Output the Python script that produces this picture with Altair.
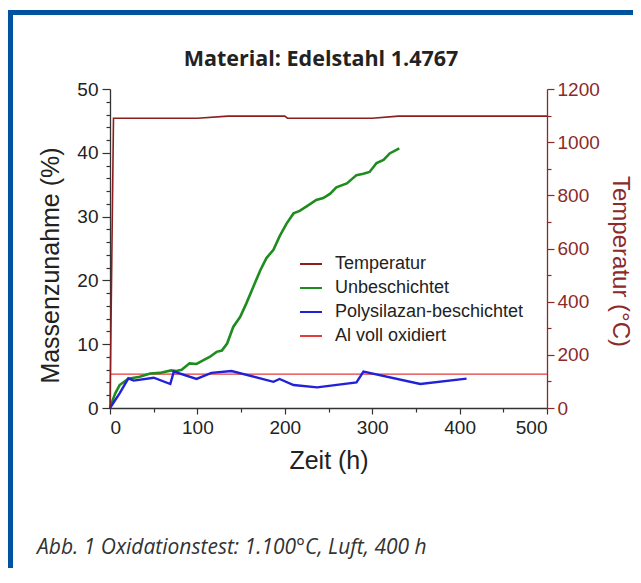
import altair as alt
import pandas as pd

# ---------------- data ----------------
series_names = ["Temperatur", "Unbeschichtet", "Polysilazan-beschichtet", "Al voll oxidiert"]
series_colors = ["#8b1f1f", "#1e8c1e", "#2121d9", "#e33b3b"]

temp_t = [0, 4, 100, 135, 200, 203, 300, 330, 500]
temp_c = [0, 1090, 1090, 1098, 1098, 1090, 1090, 1098, 1098]

unb_t = [0, 3, 6, 11, 17, 21, 34, 46, 57, 70, 76, 82, 91, 99, 107, 114, 122, 128, 134,
         141, 149, 156, 164, 172, 179, 187, 194, 202, 210, 217, 225, 236, 244, 252, 259,
         271, 282, 290, 297, 305, 313, 320, 331]
unb_m = [0, 1.2, 2.3, 3.6, 4.2, 4.6, 4.9, 5.4, 5.5, 5.9, 5.8, 6.0, 7.0, 6.9, 7.5, 8.0, 8.8, 9.0, 10.1,
         12.7, 14.3, 16.4, 19.0, 21.6, 23.5, 24.8, 26.9, 28.9, 30.5, 30.9, 31.6, 32.6, 32.9, 33.6, 34.6,
         35.2, 36.5, 36.7, 37.0, 38.4, 38.9, 39.9, 40.7]

poly_t = [0, 11, 21, 27, 50, 69, 73, 99, 116, 139, 187, 194, 210, 237, 282, 290, 355, 408]
poly_m = [0, 2.3, 4.65, 4.3, 4.75, 3.76, 5.7, 4.55, 5.5, 5.8, 4.1, 4.55, 3.6, 3.24, 4.0, 5.7, 3.76, 4.6]

al_t = [0, 500]
al_m = [5.3, 5.3]

x_ticks = list(range(0, 501, 50))
y_ticks = list(range(0, 51, 2))
t_ticks = list(range(0, 1201, 100))

title_text = "Material: Edelstahl 1.4767"
caption_text = "Abb. 1 Oxidationstest: 1.100°C, Luft, 400 h"

# ---------------- tables ----------------
unb_df = pd.DataFrame({"t": unb_t, "v": unb_m, "series": series_names[1]})
poly_df = pd.DataFrame({"t": poly_t, "v": poly_m, "series": series_names[2]})
al_df = pd.DataFrame({"t": al_t, "v": al_m, "series": series_names[3]})
temp_df = pd.DataFrame({"t": temp_t, "v": temp_c, "series": series_names[0]})
one = pd.DataFrame({"a": [0]})

FONT = "Liberation Sans"
DARKRED = "#8b2a2a"

x_axis = alt.Axis(
    values=x_ticks, orient="bottom", title="Zeit (h)", format="d",
    labelExpr="datum.value % 100 === 0 ? datum.label : ''",
    tickSize={"condition": {"test": "datum.value % 100 === 0", "value": 6}, "value": 4},
    grid=False, domainColor="#333", tickColor="#333", labelColor="#222", titleColor="#222",
    labelFont=FONT, labelFontSize=19, titleFont=FONT, titleFontSize=25, titleFontWeight="normal",
    labelPadding=4, titleBaseline="alphabetic", titleY=60, domainWidth=1.3, tickWidth=1.2,
)
x_enc = alt.X("t:Q", scale=alt.Scale(domain=[0, 500], nice=False), axis=x_axis)

color_enc = alt.Color(
    "series:N",
    scale=alt.Scale(domain=series_names, range=series_colors),
    legend=alt.Legend(
        title=None, orient="none", legendX=189, legendY=163, padding=0,
        symbolType="stroke", symbolSize=484, symbolStrokeWidth=2,
        labelFont=FONT, labelFontSize=18, labelColor="#222", labelOffset=12,
        rowPadding=3, labelLimit=400,
    ),
)

mass_y = alt.Y("v:Q", scale=alt.Scale(domain=[0, 50], nice=False),
               axis=alt.Axis(
                   values=y_ticks, orient="left", title="Massenzunahme (%)", format="d",
                   labelExpr="datum.value % 10 === 0 ? datum.label : ''",
                   tickSize={"condition": {"test": "datum.value % 10 === 0", "value": 8}, "value": 4},
                   grid=False, domainColor="#333", tickColor="#333", labelColor="#222", titleColor="#222",
                   labelFont=FONT, labelFontSize=19, titleFont=FONT, titleFontSize=25,
                   titleFontWeight="normal", labelPadding=4, titleAngle=-90, titleBaseline="middle",
                   titleX=-60, titleY=176, domainWidth=1.3, tickWidth=1.2,
               ))


def mass_layer(df, width):
    return alt.Chart(df).mark_line(strokeWidth=width).encode(
        x=x_enc, y=mass_y, color=color_enc
    )


al_line = mass_layer(al_df, 1.2)
unb_line = mass_layer(unb_df, 2.6)
poly_line = mass_layer(poly_df, 2.4)
mass = alt.layer(al_line, unb_line, poly_line)

temp = alt.Chart(temp_df).mark_line(strokeWidth=1.6).encode(
    x=x_enc,
    y=alt.Y("v:Q", scale=alt.Scale(domain=[0, 1200], nice=False),
            axis=alt.Axis(
                values=t_ticks, orient="right", title="Temperatur (°C)", format="d",
                labelExpr="datum.value % 200 === 0 ? datum.label : ''",
                tickSize={"condition": {"test": "datum.value % 200 === 0", "value": 7}, "value": 4},
                grid=False, domainColor=DARKRED, tickColor=DARKRED, labelColor=DARKRED, titleColor=DARKRED,
                labelFont=FONT, labelFontSize=19, titleFont=FONT, titleFontSize=24,
                titleFontWeight="normal", labelPadding=3, titleAngle=90, titleBaseline="middle",
                titleX=72, titleY=172, domainWidth=1.3, tickWidth=1.2,
            )),
    color=color_enc,
)

FRAME = "#00539f"
frame_left = alt.Chart(one).mark_rule(color=FRAME, strokeWidth=5).encode(
    x=alt.value(-99.5), y=alt.value(-79), y2=alt.value(479)
)
frame_top = alt.Chart(one).mark_rule(color=FRAME, strokeWidth=5).encode(
    x=alt.value(-102), x2=alt.value(523), y=alt.value(-76.5)
)
title = alt.Chart(one).mark_text(
    align="center", baseline="alphabetic", font="Open Sans", fontWeight="bold",
    fontSize=21.5, color="#222"
).encode(x=alt.value(211), y=alt.value(-23), text=alt.value(title_text))
caption = alt.Chart(one).mark_text(
    align="left", baseline="alphabetic", font="Open Sans", fontStyle="italic",
    fontSize=21, color="#333"
).encode(x=alt.value(-73), y=alt.value(465), text=alt.value(caption_text))

chart = alt.layer(frame_left, frame_top, title, caption, mass, temp).resolve_scale(
    y="independent"
).properties(
    width=437, height=319,
    padding={"left": 102, "top": 81, "right": 86, "bottom": 160},
    autosize=alt.AutoSizeParams(type="none"),
    background="white",
).configure_view(stroke=None)

chart.save("out.html", embed_options={"renderer": "svg", "actions": False})
